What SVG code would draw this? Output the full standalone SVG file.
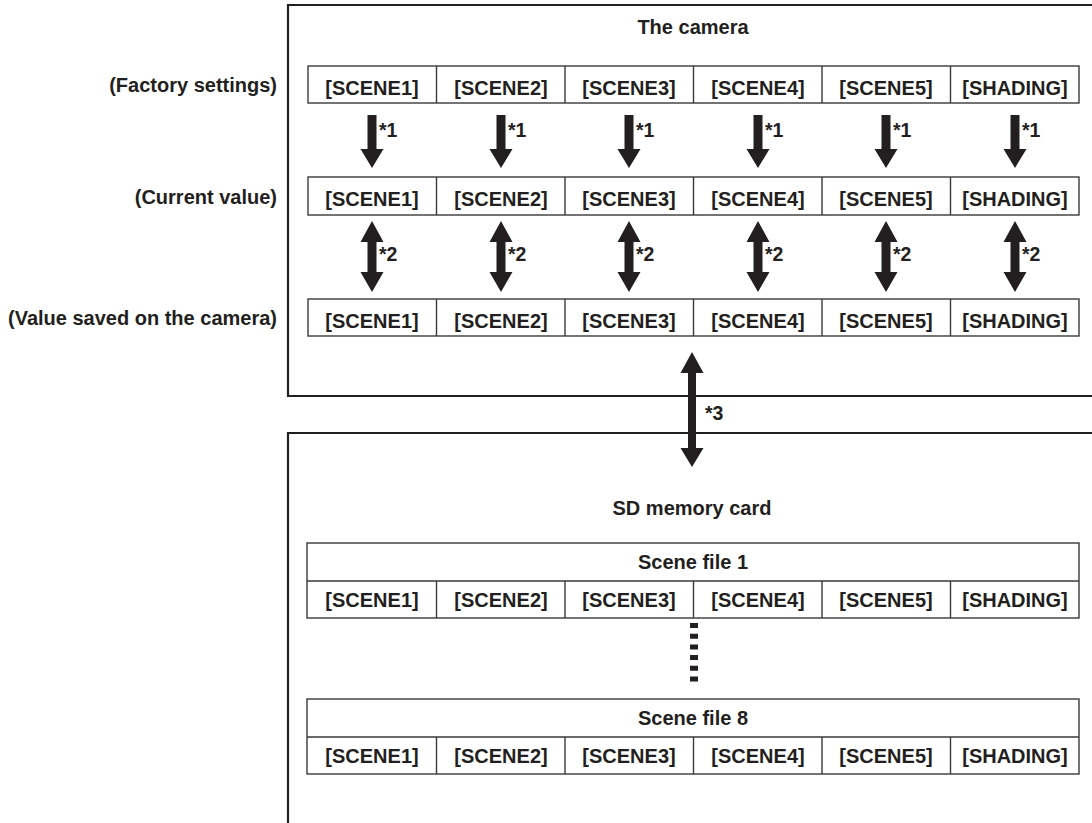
<svg xmlns="http://www.w3.org/2000/svg" width="1092" height="823" viewBox="0 0 1092 823">
<style>
text{font-family:"Liberation Sans",Arial,sans-serif;font-weight:bold;fill:#231f20;font-size:20px}
.c{text-anchor:middle}
.r{text-anchor:end}
.cell{fill:#fff;stroke:#3a3a3a;stroke-width:1.4}
.frame{fill:none;stroke:#231f20;stroke-width:2.2}
.arr{fill:#231f20}
.note{font-size:19.5px}
</style>
<rect width="1092" height="823" fill="#fff"/>
<g id="camera">
<path class="frame" d="M1095,5 H288 V396 H1095"/>
<text class="c" x="693" y="34">The camera</text>
</g>
<g id="sd-card">
<path class="frame" d="M1095,433 H288 V830"/>
<text class="c" x="692" y="515">SD memory card</text>
</g>
<g id="labels">
<text class="r" x="277" y="92">(Factory settings)</text>
<text class="r" x="277" y="204">(Current value)</text>
<text class="r" x="277" y="325">(Value saved on the camera)</text>
</g>
<g id="row-factory">
<rect class="cell" x="308" y="66" width="771" height="37"/>
<path class="cell" d="M436.5,66V103M565,66V103M693.5,66V103M822,66V103M950.5,66V103"/>
<text class="c" x="372" y="95">[SCENE1]</text><text class="c" x="501" y="95">[SCENE2]</text><text class="c" x="629" y="95">[SCENE3]</text><text class="c" x="758" y="95">[SCENE4]</text><text class="c" x="886" y="95">[SCENE5]</text><text class="c" x="1015" y="95">[SHADING]</text>
</g>
<g id="row-current">
<rect class="cell" x="308" y="177" width="771" height="38"/>
<path class="cell" d="M436.5,177V215M565,177V215M693.5,177V215M822,177V215M950.5,177V215"/>
<text class="c" x="372" y="206">[SCENE1]</text><text class="c" x="501" y="206">[SCENE2]</text><text class="c" x="629" y="206">[SCENE3]</text><text class="c" x="758" y="206">[SCENE4]</text><text class="c" x="886" y="206">[SCENE5]</text><text class="c" x="1015" y="206">[SHADING]</text>
</g>
<g id="row-saved">
<rect class="cell" x="308" y="299" width="771" height="37"/>
<path class="cell" d="M436.5,299V336M565,299V336M693.5,299V336M822,299V336M950.5,299V336"/>
<text class="c" x="372" y="328">[SCENE1]</text><text class="c" x="501" y="328">[SCENE2]</text><text class="c" x="629" y="328">[SCENE3]</text><text class="c" x="758" y="328">[SCENE4]</text><text class="c" x="886" y="328">[SCENE5]</text><text class="c" x="1015" y="328">[SHADING]</text>
</g>
<g id="scene-file-1">
<rect class="cell" x="307" y="543" width="772" height="75"/>
<path class="cell" d="M307,581H1079M436.5,581V618M565,581V618M693.5,581V618M822,581V618M950.5,581V618"/>
<text class="c" x="693" y="569">Scene file 1</text>
<text class="c" x="372" y="607">[SCENE1]</text><text class="c" x="501" y="607">[SCENE2]</text><text class="c" x="629" y="607">[SCENE3]</text><text class="c" x="758" y="607">[SCENE4]</text><text class="c" x="886" y="607">[SCENE5]</text><text class="c" x="1015" y="607">[SHADING]</text>
</g>
<g id="scene-file-8">
<rect class="cell" x="307" y="699" width="772" height="75"/>
<path class="cell" d="M307,737H1079M436.5,737V774M565,737V774M693.5,737V774M822,737V774M950.5,737V774"/>
<text class="c" x="693" y="725">Scene file 8</text>
<text class="c" x="372" y="763">[SCENE1]</text><text class="c" x="501" y="763">[SCENE2]</text><text class="c" x="629" y="763">[SCENE3]</text><text class="c" x="758" y="763">[SCENE4]</text><text class="c" x="886" y="763">[SCENE5]</text><text class="c" x="1015" y="763">[SHADING]</text>
</g>
<defs>
<path id="a1" class="arr" d="M-4.5,115H4.5V149H11.5L0,168L-11.5,149H-4.5Z"/>
<path id="a2" class="arr" d="M0,221L11.5,242H4.5V272H11.5L0,292L-11.5,272H-4.5V242H-11.5Z"/>
</defs>
<g id="connectors">
<use href="#a1" x="372"/><use href="#a1" x="501"/><use href="#a1" x="629"/><use href="#a1" x="758"/><use href="#a1" x="886"/><use href="#a1" x="1015"/>
<text class="note" x="379" y="137">*1</text><text class="note" x="508" y="137">*1</text><text class="note" x="636" y="137">*1</text><text class="note" x="765" y="137">*1</text><text class="note" x="893" y="137">*1</text><text class="note" x="1022" y="137">*1</text>
<use href="#a2" x="372"/><use href="#a2" x="501"/><use href="#a2" x="629"/><use href="#a2" x="758"/><use href="#a2" x="886"/><use href="#a2" x="1015"/>
<text class="note" x="379" y="261">*2</text><text class="note" x="508" y="261">*2</text><text class="note" x="636" y="261">*2</text><text class="note" x="765" y="261">*2</text><text class="note" x="893" y="261">*2</text><text class="note" x="1022" y="261">*2</text>
<path class="arr" d="M692,352L703.5,373H696V448H703.5L692,467L680.5,448H688V373H680.5Z"/>
<text class="note" x="705" y="420">*3</text>
<line x1="694" y1="623" x2="694" y2="684" stroke="#231f20" stroke-width="8" stroke-dasharray="5 5.7"/>
</g>
</svg>
